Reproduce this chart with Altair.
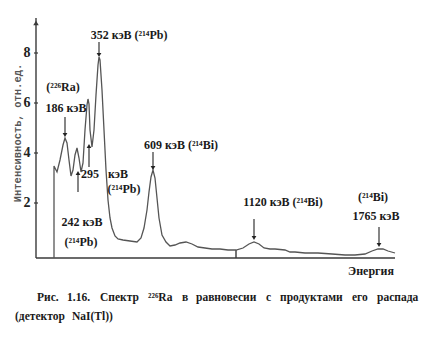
import altair as alt
import pandas as pd

# ---- spectrum (channel ~ energy axis, arbitrary units; intensity in rel. units)
channel = [18, 18, 21, 24, 27, 29, 31, 33, 35, 37, 39, 41, 43, 45, 47, 49, 51, 52, 53, 54,
           56, 58, 60, 62, 63, 64, 66, 68, 70, 72, 74, 76, 79, 82, 87, 94, 101, 105, 108,
           111, 113, 115, 117, 119, 121, 123, 126, 130, 134, 139, 144, 150, 156, 162, 169,
           176, 184, 192, 200, 207, 213, 218, 223, 228, 234, 239, 249, 254, 259, 269, 282,
           296, 309, 319, 329, 336, 342, 347, 352, 359]
intensity = [-0.2, 3.48, 3.24, 3.72, 4.32, 4.6, 4.4, 3.72, 3.08, 3.32, 3.92, 4.2, 3.8, 3.24,
             3.6, 4.92, 5.92, 6.16, 5.96, 4.92, 4.24, 4.92, 6.32, 7.52, 7.84, 7.72, 6.52,
             4.92, 3.32, 2.12, 1.4, 1.0, 0.68, 0.56, 0.52, 0.48, 0.44, 0.6, 1.0, 1.72, 2.44,
             3.04, 3.32, 3.0, 2.2, 1.4, 0.72, 0.44, 0.28, 0.32, 0.4, 0.44, 0.36, 0.24, 0.2,
             0.16, 0.16, 0.12, 0.12, 0.2, 0.36, 0.44, 0.36, 0.2, 0.16, 0.16, 0.12, 0.04,
             0.04, 0.0, 0.0, -0.04, -0.08, -0.08, -0.04, 0.08, 0.16, 0.16, 0.08, 0.0]

y_ticks = [2, 4, 6, 8]
y_tick_labels = ["2", "4", "6", "8"]

Y_MIN, Y_MAX = -0.2, 9.4
X_MIN, X_MAX = 0, 360
OX, OY = 36, 18          # plot origin on the page
PX_PER_UNIT = 25.0       # vertical pixels per intensity unit
SERIF = "'Liberation Serif', 'Times New Roman', serif"
MONO = "'Liberation Mono', 'Courier New', monospace"


def to_x(px):
    return px - OX


def to_y(py):
    return Y_MAX - (py - OY) / PX_PER_UNIT


spec = pd.DataFrame({"ch": channel, "val": intensity, "ord": range(len(channel))})

xs = alt.Scale(domain=[X_MIN, X_MAX], nice=False, zero=False)
ys = alt.Scale(domain=[Y_MIN, Y_MAX], nice=False, zero=False)
X = lambda f: alt.X(f, type="quantitative", scale=xs, axis=None)
Y = lambda f: alt.Y(f, type="quantitative", scale=ys, axis=None)

line = alt.Chart(spec).mark_line(color="#555555", strokeWidth=1.3).encode(
    x=X("ch"), y=Y("val"), order=alt.Order("ord:Q"),
)

AX = "#3a3a3a"
axes_df = pd.DataFrame({
    "x": [0, 0, 200], "x2": [0, 359, 200],
    "y": [Y_MIN, Y_MIN, Y_MIN], "y2": [Y_MAX, Y_MIN, 0.12],
})
axes = alt.Chart(axes_df).mark_rule(color=AX, strokeWidth=1.4).encode(
    x=X("x"), x2="x2:Q", y=Y("y"), y2="y2:Q",
)

arrow_top = alt.Chart(pd.DataFrame({"x": [0], "y": [9.2]})).mark_point(
    shape="triangle-up", filled=True, color=AX, size=30, opacity=1
).encode(x=X("x"), y=Y("y"))

ticks_df = pd.DataFrame({"v": y_ticks, "lab": y_tick_labels,
                         "xa": [-2] * 4, "xb": [2] * 4, "xl": [-9] * 4})
ticks = alt.Chart(ticks_df).mark_rule(color=AX, strokeWidth=1.2).encode(
    x=X("xa"), x2="xb:Q", y=Y("v")
)
tick_labels = alt.Chart(ticks_df).mark_text(
    font=SERIF, fontWeight="bold", fontSize=14, color="#222222",
    align="center", baseline="middle"
).encode(x=X("xl"), y=Y("v"), text="lab:N")

# ---- annotations (page pixel positions)
ann_text = ["352 кэВ (²¹⁴Pb)", "(²²⁶Ra)", "186 кэВ", "609 кэВ (²¹⁴Bi)", "295", "кэВ",
            "(²¹⁴Pb)", "242 кэВ", "(²¹⁴Pb)", "1120 кэВ (²¹⁴Bi)", "(²¹⁴Bi)", "1765 кэВ",
            "Энергия"]
ann_px = [129, 63, 66, 181, 90, 118, 124, 82, 81, 283, 373, 376, 371]
ann_py = [35, 87, 108, 145, 174, 174, 189, 222, 242, 202, 197, 216, 271]

ann = pd.DataFrame({"t": ann_text, "x": [to_x(p) for p in ann_px], "y": [to_y(p) for p in ann_py]})
labels = alt.Chart(ann).mark_text(
    font=SERIF, fontWeight="bold", fontSize=12, color="#1a1a1a",
    align="center", baseline="middle"
).encode(x=X("x"), y=Y("y"), text="t:N")

cap_words = ["Рис.", "1.16.", "Спектр", "²²⁶Ra", "в", "равновесии", "с", "продуктами",
             "его", "распада", "(детектор", "NaI(Tl))"]
cap_px = [37, 67, 100, 148, 182, 196, 266, 280, 352, 377, 15, 72]
cap_py = [298] * 10 + [317, 317]
cap = pd.DataFrame({"t": cap_words, "x": [to_x(p) for p in cap_px], "y": [to_y(p) for p in cap_py]})
caption = alt.Chart(cap).mark_text(
    font=SERIF, fontWeight="bold", fontSize=11.5, color="#1a1a1a",
    align="left", baseline="middle"
).encode(x=X("x"), y=Y("y"), text="t:N")

ytitle = alt.Chart(pd.DataFrame({"t": ["Интенсивность, отн.ед."], "x": [to_x(18)], "y": [to_y(133)]})).mark_text(
    font=MONO, fontWeight="bold", fontSize=10.5, color="#555555",
    angle=270, align="center", baseline="middle"
).encode(x=X("x"), y=Y("y"), text="t:N")

# arrows: x, start y, tip y (page pixels)
arr_x = [99, 65, 153, 254, 379, 78, 89]
arr_from = [42, 117, 152, 219, 227, 192, 167]
arr_tip = [55, 135, 168, 238, 245, 173, 146]
arr = pd.DataFrame({
    "x": [to_x(v) for v in arr_x],
    "y1": [to_y(v) for v in arr_from],
    "y2": [to_y(v) for v in arr_tip],
    "down": [t > f for f, t in zip(arr_from, arr_tip)],
})
arr_lines = alt.Chart(arr).mark_rule(color="#222222", strokeWidth=1.1).encode(
    x=X("x"), y=Y("y1"), y2="y2:Q"
)
heads_down = alt.Chart(arr[arr["down"]]).mark_point(
    shape="triangle-down", filled=True, color="#222222", size=22, opacity=1
).encode(x=X("x"), y=Y("y2"))
heads_up = alt.Chart(arr[~arr["down"]]).mark_point(
    shape="triangle-up", filled=True, color="#222222", size=22, opacity=1
).encode(x=X("x"), y=Y("y2"))

chart = alt.layer(
    axes, ticks, arrow_top, line, arr_lines, heads_down, heads_up,
    tick_labels, labels, caption, ytitle
).properties(
    width=360, height=240,
    autosize=alt.AutoSizeParams(type="none"),
    padding={"left": OX, "top": OY, "right": 26, "bottom": 80},
    background="white",
).configure_view(stroke=None)

chart.save("out.html", embed_options={"renderer": "svg", "actions": False})
